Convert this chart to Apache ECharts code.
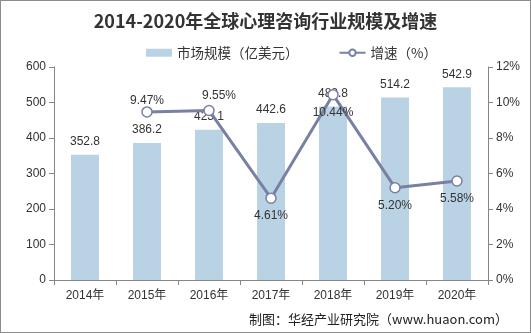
<!DOCTYPE html>
<html><head><meta charset="utf-8">
<script src="https://cdn.jsdelivr.net/npm/echarts@6/dist/echarts.min.js"></script>
<style>html,body{margin:0;padding:0;background:#fff}#c{width:531px;height:333px;box-sizing:border-box;border:1px solid #8c8c8c}</style>
</head><body><div id="c"></div>
<script>
const categories = ['2014年','2015年','2016年','2017年','2018年','2019年','2020年'];
const marketSize = [352.8, 386.2, 423.1, 442.6, 488.8, 514.2, 542.9];
const growth = [null, 9.47, 9.55, 4.61, 10.44, 5.20, 5.58];
const leftTicks = [0, 600, 100];
const rightTicks = [0, 12, 2];

const chart = echarts.init(document.getElementById('c'), null, {renderer:'canvas'});
const font = 'Arial, "Liberation Sans", "Noto Sans CJK SC", sans-serif';
const labelPos = [null, 'top', 'top', 'bottom', 'bottom', 'bottom', 'bottom'];
const labelOff = [null, [0,7], [10,3], [0,0], [0,0], [0,0], [0,0]];
chart.setOption({
  animation:false,
  textStyle:{fontFamily:font},
  title:{text:'2014-2020年全球心理咨询行业规模及增速',left:'center',top:6,
    textStyle:{fontFamily:'"Noto Sans CJK SC", serif',fontSize:18,fontWeight:'bold',color:'#333'}},
  legend:{top:40,left:140,itemGap:40,itemWidth:26,itemHeight:8,
    textStyle:{fontSize:13.5,color:'#333',fontFamily:'"Noto Sans CJK SC", sans-serif'},
    data:[{name:'市场规模（亿美元）',icon:'rect'},{name:'增速（%）'}]},
  grid:{left:53,right:42,top:66,bottom:52},
  xAxis:{type:'category',data:categories,
    axisLine:{lineStyle:{color:'#868686'}},
    axisTick:{show:true,alignWithLabel:false,lineStyle:{color:'#868686'}},
    axisLabel:{color:'#333',fontSize:12,margin:10}},
  yAxis:[{type:'value',min:leftTicks[0],max:leftTicks[1],interval:leftTicks[2],
      axisLine:{show:true,lineStyle:{color:'#868686'}},axisTick:{show:true,lineStyle:{color:'#868686'}},
      splitLine:{show:false},axisLabel:{color:'#333',fontSize:12,margin:8}},
    {type:'value',min:rightTicks[0],max:rightTicks[1],interval:rightTicks[2],
      axisLine:{show:true,lineStyle:{color:'#868686'}},axisTick:{show:true,lineStyle:{color:'#868686'}},
      splitLine:{show:false},axisLabel:{color:'#333',fontSize:12,margin:8,formatter:'{value}%'}}],
  series:[{name:'市场规模（亿美元）',type:'bar',data:marketSize,barWidth:28,
      itemStyle:{color:'#b9d3e5'},
      label:{show:true,position:'top',color:'#333',fontSize:12,distance:7}},
    {name:'增速（%）',type:'line',yAxisIndex:1,
      data:growth.map((v,i)=>v==null?null:{value:v,label:{position:labelPos[i],offset:labelOff[i]}}),
      lineStyle:{color:'#7880a4',width:3},itemStyle:{color:'#fff',borderColor:'#7880a4',borderWidth:1.5},
      symbol:'circle',symbolSize:10,
      label:{show:true,color:'#333',fontSize:12,formatter:p=>p.value.toFixed(2)+'%',distance:6}}],
  graphic:[{type:'text',right:22,bottom:6,style:{text:'制图：华经产业研究院（www.huaon.com）',fontSize:13,fill:'#222',fontFamily:'"Noto Sans CJK SC", sans-serif'}}]
});
</script></body></html>
